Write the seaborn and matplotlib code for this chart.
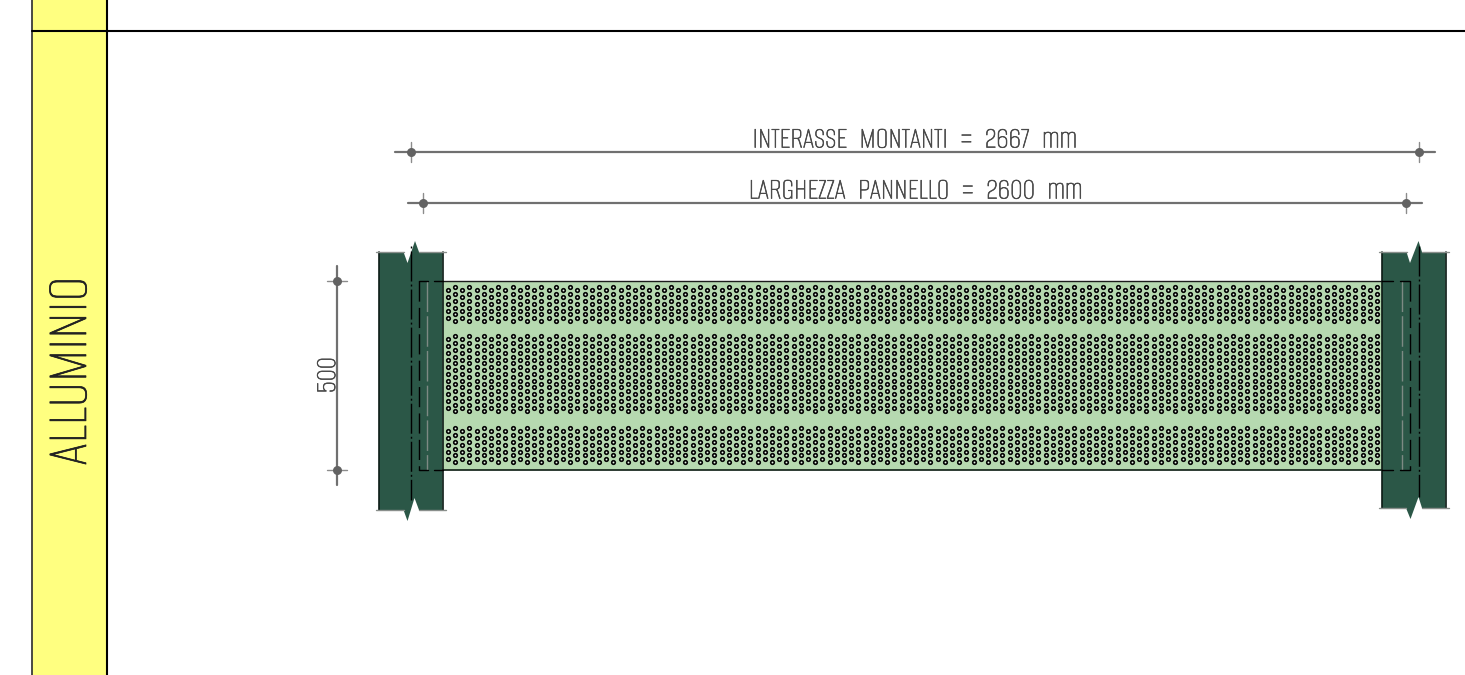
import numpy as np
import pandas as pd
import seaborn as sns
import matplotlib.pyplot as plt
import matplotlib.patheffects as pe

# everything is in picture pixels, y pointing down
STRIP_X = [32, 107]
HEADER_Y = 31
PANEL_X = [443, 1382]
PANEL_Y = [281, 470]

LEFT_POST = [(379, 252), (403.5, 252), (407.5, 263), (415, 241), (419, 252), (442.5, 252),
             (442.5, 510), (419, 510), (414.5, 498), (407.5, 521), (403.5, 510), (379, 510)]
RIGHT_POST = [(1382, 252), (1406.5, 252), (1410, 263), (1418.5, 241), (1422, 252), (1445.5, 252),
              (1445.5, 508), (1422, 508), (1418.5, 497), (1410.5, 519), (1406, 508), (1382, 508)]

# hole bands, first row and row count of the taller columns
BAND_TOP = [287, 336, 428]
BAND_ROWS = [6, 12, 6]
HOLE_X0 = 447.8
HOLE_DX = 7.203
HOLE_DY = 6.85
HOLE_COLS = 130

DIM_H = [(395, 1435, 152, 410.5, 1419), (408, 1422, 203, 423, 1406)]
DIM_V = (337, 266, 485, 281, 470)
DIM_TEXT = ["INTERASSE  MONTANTI  =  2667  mm", "LARGHEZZA  PANNELLO  =  2600  mm"]
DIM_TEXT_X = [914.5, 915]
DIM_TEXT_Y = [151.5, 202.5]

GREY = "#707070"
TICK_GREY = "#8c8c8c"
TEXT_GREY = "#4a4a4a"
POST = "#2b5747"
PANEL = "#b6d9b0"
YELLOW = "#ffff80"
FONT = ["Alumni Sans", "Liberation Sans", "DejaVu Sans"]

sns.set_theme(style="white")
plt.rcParams["font.family"] = FONT

fig = plt.figure(figsize=(14.65, 6.75), dpi=100, facecolor="white")
ax = fig.add_axes([0, 0, 1, 1])
ax.set_xlim(0, 1465)
ax.set_ylim(675, 0)
ax.axis("off")


def seg(x, y, color="black", lw=1.0, ls="-", z=5):
    sns.lineplot(x=x, y=y, ax=ax, color=color, linewidth=lw, linestyle=ls, sort=False,
                 estimator=None, zorder=z, legend=False)


def label(x, y, s, size, color=TEXT_GREY, stroke=0.45, **kw):
    t = ax.text(x, y, s, fontsize=size, color=color, zorder=7, **kw)
    t.set_path_effects([pe.withStroke(linewidth=stroke, foreground=color)])


# yellow strip and header rule
ax.fill_between(STRIP_X, 0, 675, color=YELLOW, lw=0, zorder=1)
seg([STRIP_X[0]] * 2, [0, 675], "#3a3a3a", 1.3)
seg([STRIP_X[1]] * 2, [0, 675], "black", 1.5)
seg([STRIP_X[0], 1465], [HEADER_Y, HEADER_Y], "black", 1.5)
label(70, 371, "ALLUMINIO", 44, "#222222", 0.5, rotation=90, ha="center", va="center")

# panel
ax.fill_between(PANEL_X, PANEL_Y[0], PANEL_Y[1], color=PANEL, lw=0, zorder=2)
seg(PANEL_X, [PANEL_Y[0]] * 2, "#1c1c1c", 1.0)
seg(PANEL_X, [PANEL_Y[1]] * 2, "#1c2c22", 1.3)

# holes
rows = []
for top, n in zip(BAND_TOP, BAND_ROWS):
    for i in range(HOLE_COLS):
        if i % 2:
            ys = top + HOLE_DY * np.arange(n)
        else:
            ys = top + HOLE_DY / 2 + HOLE_DY * np.arange(n - 1)
        for y in ys:
            rows.append((HOLE_X0 + HOLE_DX * i, y))
holes = pd.DataFrame(rows, columns=["x", "y"])
pts = sns.scatterplot(data=holes, x="x", y="y", ax=ax, s=6.5, marker="o", facecolor="#e4f0e2", edgecolor="#050505",
                      linewidth=1.2, zorder=3, legend=False)
pts.collections[-1].set_snap(False)

# posts
for post in (LEFT_POST, RIGHT_POST):
    xs, ys = zip(*post)
    ax.fill(xs, ys, color=POST, lw=0, zorder=4)
    seg([post[0][0]] * 2, [post[0][1], post[-1][1]], "#0c1a15", 1.2)
    seg([post[5][0]] * 2, [post[5][1], post[6][1]], "#0c1a15", 1.2)
    seg([post[0][0] - 3, post[1][0]], [post[0][1]] * 2, "#8a8f8c", 1.0)
    seg([post[4][0], post[5][0] + 3], [post[4][1]] * 2, "#8a8f8c", 1.0)
    seg([post[-1][0] - 3, post[-2][0]], [post[-1][1]] * 2, "#8a8f8c", 1.0)
    seg([post[7][0], post[6][0] + 3], [post[7][1]] * 2, "#8a8f8c", 1.0)

# hidden lines over the posts
seg([410.7, 410.7], [246, 500], "black", 1.0, (23.8, (21.6, 2.2, 1.4, 2.2)), 6)
seg([1418.8, 1418.8], [246, 497], "black", 1.0, (0, (21.6, 2.2, 1.4, 2.2)), 6)
seg([419.3, 419.3], PANEL_Y, "black", 1.0, (0, (14.5, 4.5)), 6)
seg([1410, 1410], PANEL_Y, "black", 1.0, (0, (14.5, 4.5)), 6)
seg([427, 427], PANEL_Y, "#7d8a84", 1.0, (0, (22, 3)), 6)
seg([1402.3, 1402.3], PANEL_Y, "#7d8a84", 1.0, (0, (22, 3)), 6)
for y in PANEL_Y:
    seg([419.3, 428], [y, y], "black", 1.0, "-", 6)
    seg([434, 443], [y, y], "black", 1.0, "-", 6)
    seg([1382, 1393], [y, y], "black", 1.0, "-", 6)
    seg([1400, 1410], [y, y], "black", 1.0, "-", 6)

# dimensions
for (x0, x1, y, a, b), text, tx, ty in zip(DIM_H, DIM_TEXT, DIM_TEXT_X, DIM_TEXT_Y):
    seg([x0, x1], [y, y], GREY, 1.6)
    for x in (a, b):
        seg([x, x], [y - 10, y + 10], TICK_GREY, 1.0)
    sns.scatterplot(x=[a, b], y=[y, y], ax=ax, s=42, color="#626262", linewidth=0, zorder=6, legend=False)
    label(tx, ty, text, 22.3, ha="center", va="bottom")

x, y0, y1, a, b = DIM_V
seg([x, x], [y0, y1], GREY, 1.6)
for y in (a, b):
    seg([x - 10, x + 10], [y, y], TICK_GREY, 1.0)
sns.scatterplot(x=[x, x], y=[a, b], ax=ax, s=42, color="#626262", linewidth=0, zorder=6, legend=False)
label(327, 375, "500", 21.5, rotation=90, ha="center", va="center")

fig.savefig("out.png", dpi=100)
plt.close(fig)
